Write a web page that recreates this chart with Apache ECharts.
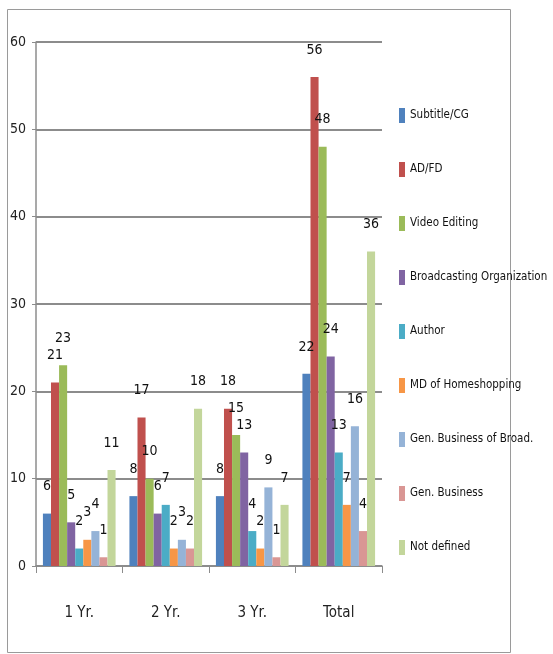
<!DOCTYPE html>
<html>
<head>
<meta charset="utf-8">
<script src="https://cdn.jsdelivr.net/npm/echarts@6/dist/echarts.min.js"></script>
<style>
html,body{margin:0;padding:0;background:#fff;}
#c{width:553px;height:654px;}
</style>
</head>
<body>
<div id="c"></div>
<script>
const categories = ['1 Yr.', '2 Yr.', '3 Yr.', 'Total'];
const seriesNames = ['Subtitle/CG', 'AD/FD', 'Video Editing', 'Broadcasting Organization', 'Author', 'MD of Homeshopping', 'Gen. Business of Broad.', 'Gen. Business', 'Not defined'];
const subtitleCG = [6, 8, 8, 22];
const adFd = [21, 17, 18, 56];
const videoEditing = [23, 10, 15, 48];
const broadcastingOrg = [5, 6, 13, 24];
const author = [2, 7, 4, 13];
const mdHomeshopping = [3, 2, 2, 7];
const genBusinessBroad = [4, 3, 9, 16];
const genBusiness = [1, 2, 1, 4];
const notDefined = [11, 18, 7, 36];
const yTicks = [0, 10, 20, 30, 40, 50, 60];

const allValues = [subtitleCG, adFd, videoEditing, broadcastingOrg, author, mdHomeshopping, genBusinessBroad, genBusiness, notDefined];
const colors = ['#4F81BD', '#C0504D', '#9BBB59', '#8064A2', '#4BACC6', '#F79646', '#95B3D7', '#D99694', '#C3D69B'];
const FONT = "'DejaVu Sans Condensed', 'Liberation Sans Narrow', sans-serif";

const chart = echarts.init(document.getElementById('c'), null, {renderer: 'canvas'});
const series = seriesNames.map((name, i) => ({
  name: name,
  type: 'bar',
  data: allValues[i],
  barGap: '0%',
  barCategoryGap: '16%',
  itemStyle: {color: colors[i]},
  label: {
    show: true,
    position: 'top',
    distance: 20,
    color: '#111',
    fontFamily: FONT,
    fontSize: 14
  }
}));

chart.setOption({
  animation: false,
  backgroundColor: '#fff',
  color: colors,
  graphic: [{
    type: 'rect',
    shape: {x: 7.5, y: 9.5, width: 503, height: 643},
    style: {fill: 'none', stroke: '#9a9a9a', lineWidth: 1},
    silent: true
  }],
  grid: {left: 36, right: 171, top: 42, bottom: 88, containLabel: false},
  legend: {
    orient: 'vertical',
    left: 399,
    top: 108,
    padding: 0,
    itemWidth: 6,
    itemHeight: 15,
    itemGap: 39,
    icon: 'rect',
    data: seriesNames,
    textStyle: {fontFamily: FONT, fontSize: 11.5, color: '#111'}
  },
  xAxis: {
    type: 'category',
    data: categories,
    axisLine: {show: true, lineStyle: {color: '#8c8c8c', width: 1.5}},
    axisTick: {show: true, length: 7, lineStyle: {color: '#8c8c8c'}},
    axisLabel: {margin: 40, fontFamily: FONT, fontSize: 15, color: '#222'},
    splitLine: {show: false}
  },
  yAxis: {
    type: 'value',
    min: 0,
    max: 60,
    interval: 10,
    axisLine: {show: true, lineStyle: {color: '#8c8c8c', width: 1.5}},
    axisTick: {show: true, length: 4, lineStyle: {color: '#8c8c8c'}},
    axisLabel: {margin: 10, fontFamily: FONT, fontSize: 14, color: '#222',
      formatter: v => yTicks.includes(v) ? String(v) : ''},
    splitLine: {show: true, lineStyle: {color: '#8c8c8c', width: 2}}
  },
  series: series
});
</script>
</body>
</html>
